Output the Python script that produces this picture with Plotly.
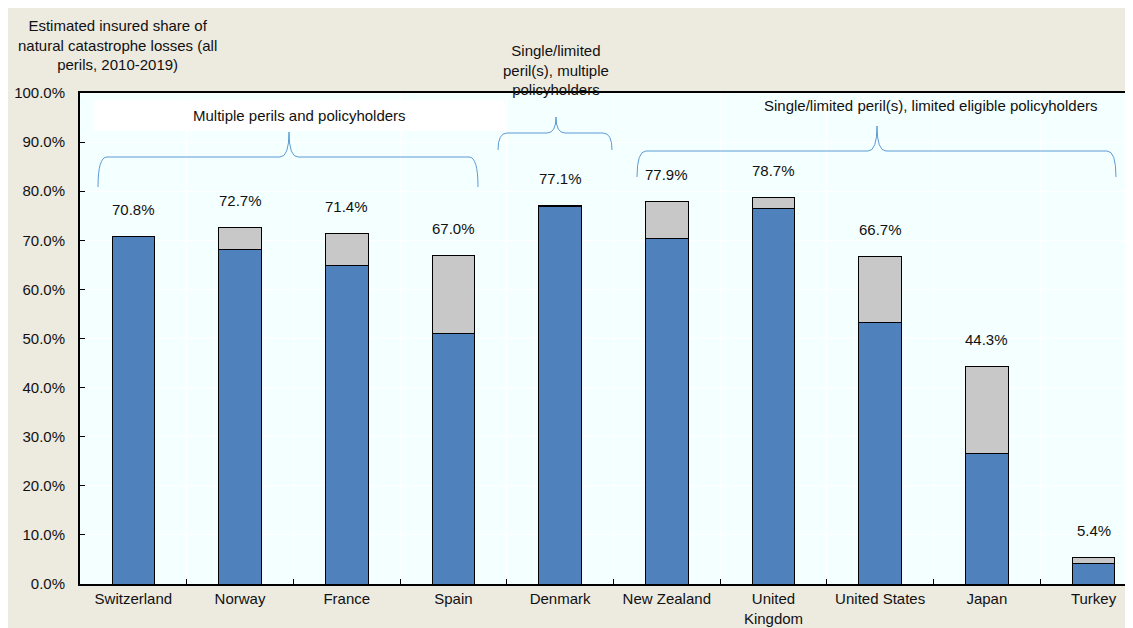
import plotly.graph_objects as go

countries = ["Switzerland", "Norway", "France", "Spain", "Denmark",
             "New Zealand", "United<br>Kingdom", "United States", "Japan", "Turkey"]
total_share = [70.8, 72.7, 71.4, 67.0, 77.1, 77.9, 78.7, 66.7, 44.3, 5.4]
blue_part = [70.8, 68.2, 64.8, 51.1, 76.8, 70.3, 76.4, 53.2, 26.5, 4.1]
grey_part = [round(t - b, 1) for t, b in zip(total_share, blue_part)]
y_ticks = [0, 10, 20, 30, 40, 50, 60, 70, 80, 90, 100]

FONT = "Liberation Sans, Arial"
# page body has an 8px margin, so the figure is offset by 8px
OFF = 8
W, H = 1125, 620
L, T, B = 72, 85, 44


def px(x):
    return (x - OFF - L) / (W - L)


def py(y):
    return (H - B - (y - OFF)) / (H - B - T)


def brace(x0, x1, xm, y_end, y_h, y_top, d=9):
    p = [
        f"M {px(x0)},{py(y_end)}",
        f"Q {px(x0)},{py(y_h)} {px(x0 + d)},{py(y_h)}",
        f"L {px(xm - d)},{py(y_h)}",
        f"Q {px(xm)},{py(y_h)} {px(xm)},{py(y_top)}",
        f"Q {px(xm)},{py(y_h)} {px(xm + d)},{py(y_h)}",
        f"L {px(x1 - d)},{py(y_h)}",
        f"Q {px(x1)},{py(y_h)} {px(x1)},{py(y_end)}",
    ]
    return dict(type="path", path=" ".join(p), xref="paper", yref="paper",
                line=dict(color="#5B9BD5", width=1))


fig = go.Figure()
fig.add_trace(go.Bar(x=countries, y=blue_part, marker_color="#4F81BD",
                     marker_line=dict(color="black", width=1)))
fig.add_trace(go.Bar(x=countries, y=grey_part, marker_color="#C8C8C8",
                     marker_line=dict(color="black", width=1)))

for c, t in zip(countries, total_share):
    fig.add_annotation(x=c, y=t, text=f"{t:.1f}%", showarrow=False,
                       yshift=27, font=dict(size=15, color="#111"))

fig.add_shape(type="rect", xref="paper", yref="paper",
              x0=px(93), x1=px(505), y0=py(131), y1=py(100),
              fillcolor="white", line_width=0, layer="below")
fig.add_shape(brace(98, 478, 289, 187, 157, 132))
fig.add_shape(brace(498, 612, 556, 150, 133, 117))
fig.add_shape(brace(637, 1116, 877, 177, 151, 126))

notes = [
    ("Multiple perils and policyholders", 299, 116),
    ("Single/limited<br>peril(s), multiple<br>policyholders", 556, 70),
    ("Single/limited peril(s), limited eligible policyholders", 930, 105),
    ("Estimated insured share of<br>natural catastrophe losses (all<br>perils, 2010-2019)", 117, 45),
]
for txt, x, y in notes:
    fig.add_annotation(text=txt, x=px(x), y=py(y), xref="paper", yref="paper",
                       showarrow=False, font=dict(size=15, color="#111"),
                       xanchor="center", yanchor="middle")

fig.update_layout(
    width=W, height=H, barmode="stack", bargap=0.6, showlegend=False,
    paper_bgcolor="#EDEAE0", plot_bgcolor="#F4FFFF",
    margin=dict(l=L, r=0, t=T, b=B),
    font=dict(family=FONT, size=15, color="#111"),
)
fig.update_xaxes(range=[-0.5, 9.37], tickson="boundaries", ticks="inside",
                 ticklen=5, tickcolor="black", showline=True, linecolor="black",
                 linewidth=2, mirror=True, showgrid=True, gridcolor="white",
                 gridwidth=1, tickfont=dict(size=15))
fig.update_yaxes(range=[0, 100], tickvals=y_ticks,
                 ticktext=[f"{v:.1f}%" for v in y_ticks], ticks="inside",
                 ticklen=5, tickcolor="black", showline=True, linecolor="black",
                 linewidth=2, gridcolor="white", gridwidth=1, zeroline=False,
                 ticklabelstandoff=10, tickfont=dict(size=15))

fig.write_html("out.html")
